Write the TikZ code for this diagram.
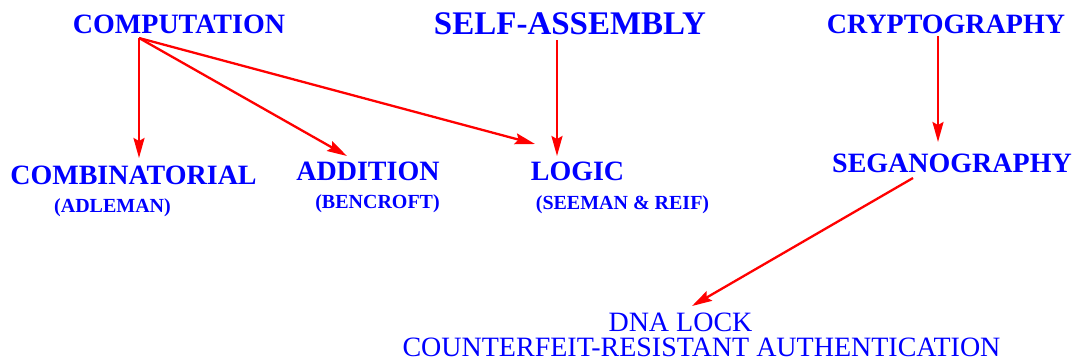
\documentclass[tikz,border=0pt]{standalone}
\usepackage{fontspec}
\setmainfont{Liberation Serif}
\usetikzlibrary{arrows.meta}
\definecolor{topicblue}{RGB}{0,0,255}
\definecolor{linkred}{RGB}{255,0,0}
\tikzset{
  topic/.style={anchor=base, inner sep=0pt, text=topicblue,
    font=\fontsize{28}{30}\selectfont\bfseries},
  bigtopic/.style={topic, font=\fontsize{33}{35}\selectfont\bfseries},
  who/.style={anchor=base, inner sep=0pt, text=topicblue,
    font=\fontsize{20}{22}\selectfont\bfseries},
  plain/.style={anchor=base, inner sep=0pt, text=topicblue,
    text height=18pt, text depth=0pt,
    font=\fontsize{28}{30}\selectfont},
  link/.style={draw=linkred, line width=2.3pt,
    -{Stealth[length=20pt,width=11pt,inset=3pt]}}
}
\begin{document}
\begin{tikzpicture}[x=1pt,y=-1pt]
\useasboundingbox (0,0) rectangle (1077,360);
\fill[white] (0,0) rectangle (1077,360);

% top row
\node[topic]    (comp)   at (179,33)   {COMPUTATION};
\node[bigtopic] (selfas) at (570,34)   {SELF-ASSEMBLY};
\node[topic]    (crypto) at (946,33)   {CRYPTOGRAPHY};

% second row
\node[topic] (comb)  at (133.5,184) {COMBINATORIAL};
\node[who]   (adl)   at (112.5,212) {(ADLEMAN)};
\node[topic] (add)   at (368,180)   {ADDITION};
\node[who]   (benc)  at (377.5,208) {(BENCROFT)};
\node[topic] (logic) at (577.5,180) {LOGIC};
\node[who]   (seem)  at (622.5,209) {(SEEMAN \& REIF)};
\node[topic] (sega)  at (952,172)   {SEGANOGRAPHY};

% bottom
\node[plain] (lock) at (680.5,331) {DNA LOCK};
\node[plain] (auth) at (701.5,356) {COUNTERFEIT-RESISTANT AUTHENTICATION};

% connector ends
\coordinate (hub)      at (139,38);
\coordinate (comb-in)  at (139,158);
\coordinate (add-in)   at (347,156);
\coordinate (logic-in) at (535,144);
\coordinate (sa-out)   at (557,40);
\coordinate (sa-in)    at (557,156);
\coordinate (cr-out)   at (938,36);
\coordinate (sg-in)    at (938,142);
\coordinate (sg-out)   at (913,178);
\coordinate (lock-in)  at (692,306);

\draw[link] (hub) -- (comb-in);
\draw[link] (hub) -- (add-in);
\draw[link] (hub) -- (logic-in);
\draw[link] (sa-out) -- (sa-in);
\draw[link] (cr-out) -- (sg-in);
\draw[link] (sg-out) -- (lock-in);
\end{tikzpicture}
\end{document}
